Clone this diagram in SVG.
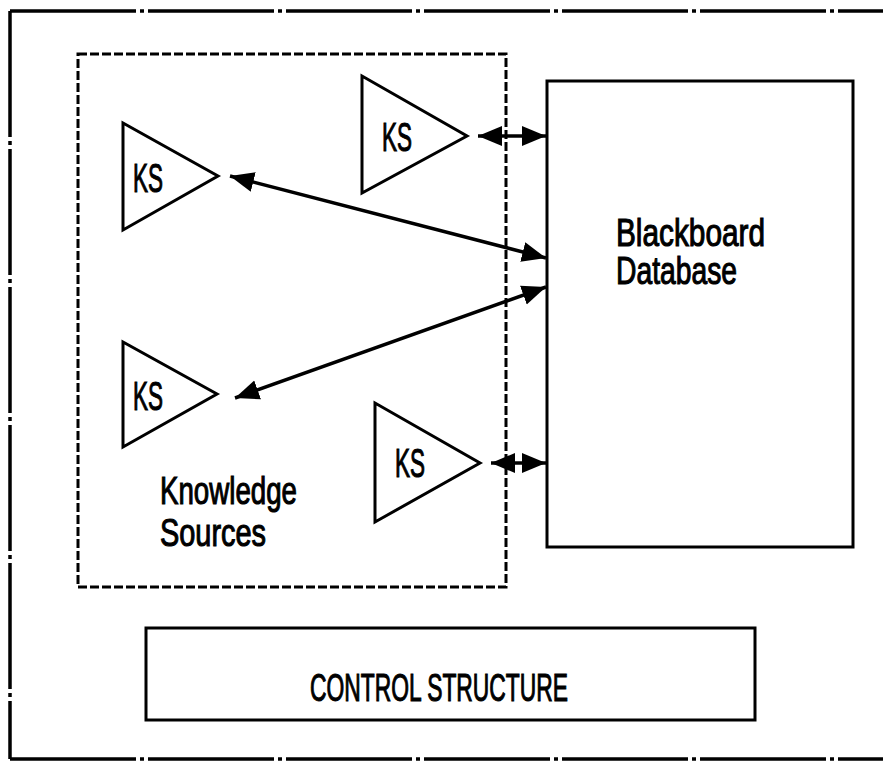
<svg xmlns="http://www.w3.org/2000/svg" width="883" height="765" viewBox="0 0 883 765">
<style>
.frame{fill:none;stroke:#000;stroke-width:3.5;stroke-dasharray:126 4 4 4;}
.dash{fill:none;stroke:#000;stroke-width:3;stroke-dasharray:9 3;}
.box{fill:#fff;stroke:#000;stroke-width:3;}
.ks{fill:#fff;stroke:#000;stroke-width:3;stroke-linejoin:miter;}
.conn{fill:none;stroke:#000;stroke-width:3.5;}
text{font-family:"Liberation Sans",Arial,sans-serif;fill:#000;stroke:#000;stroke-width:1.1;}
.lbl{font-size:38px;}
.kst{font-size:41px;}
</style>
<defs>
<marker id="ah" markerUnits="userSpaceOnUse" markerWidth="26" markerHeight="22" refX="24" refY="10" orient="auto-start-reverse" viewBox="0 0 26 22">
<path d="M0,0 L24,10 L0,20 z" fill="#000"/>
</marker>
</defs>
<rect width="883" height="765" fill="#fff"/>
<g id="frame">
<line class="frame" x1="10" y1="11" x2="883" y2="11"/>
<line class="frame" x1="10" y1="11" x2="10" y2="759"/>
<line class="frame" x1="10" y1="759" x2="883" y2="759"/>
</g>
<g id="knowledge-sources">
<rect class="dash" x="78" y="54" width="428" height="533"/>
<text class="lbl" x="160" y="504" textLength="137" lengthAdjust="spacingAndGlyphs">Knowledge</text>
<text class="lbl" x="160" y="546" textLength="106" lengthAdjust="spacingAndGlyphs">Sources</text>
</g>
<g id="blackboard">
<rect class="box" x="547" y="81" width="306" height="466"/>
<text class="lbl" x="616" y="246" textLength="149" lengthAdjust="spacingAndGlyphs">Blackboard</text>
<text class="lbl" x="616" y="284" textLength="121" lengthAdjust="spacingAndGlyphs">Database</text>
</g>
<g id="ks1">
<polygon class="ks" points="362,76 362,193 467,136"/>
<text class="kst" x="382" y="151" textLength="30" lengthAdjust="spacingAndGlyphs">KS</text>
</g>
<g id="ks2">
<polygon class="ks" points="123,123 123,230 218,176"/>
<text class="kst" x="133" y="192" textLength="30" lengthAdjust="spacingAndGlyphs">KS</text>
</g>
<g id="ks3">
<polygon class="ks" points="123,342 123,447 217,394"/>
<text class="kst" x="133" y="410" textLength="30" lengthAdjust="spacingAndGlyphs">KS</text>
</g>
<g id="ks4">
<polygon class="ks" points="375,403 375,522 480,463"/>
<text class="kst" x="395" y="477" textLength="30" lengthAdjust="spacingAndGlyphs">KS</text>
</g>
<g id="control">
<rect class="box" x="146" y="628" width="609" height="92"/>
<text class="lbl" x="310" y="701" textLength="258" lengthAdjust="spacingAndGlyphs">CONTROL STRUCTURE</text>
</g>
<g id="connectors">
<line class="conn" x1="478" y1="136" x2="546" y2="136" marker-start="url(#ah)" marker-end="url(#ah)"/>
<line class="conn" x1="230" y1="176" x2="546" y2="258" marker-start="url(#ah)" marker-end="url(#ah)"/>
<line class="conn" x1="546" y1="287" x2="235" y2="398" marker-start="url(#ah)" marker-end="url(#ah)"/>
<line class="conn" x1="491" y1="463" x2="546" y2="463" marker-start="url(#ah)" marker-end="url(#ah)"/>
</g>
</svg>
